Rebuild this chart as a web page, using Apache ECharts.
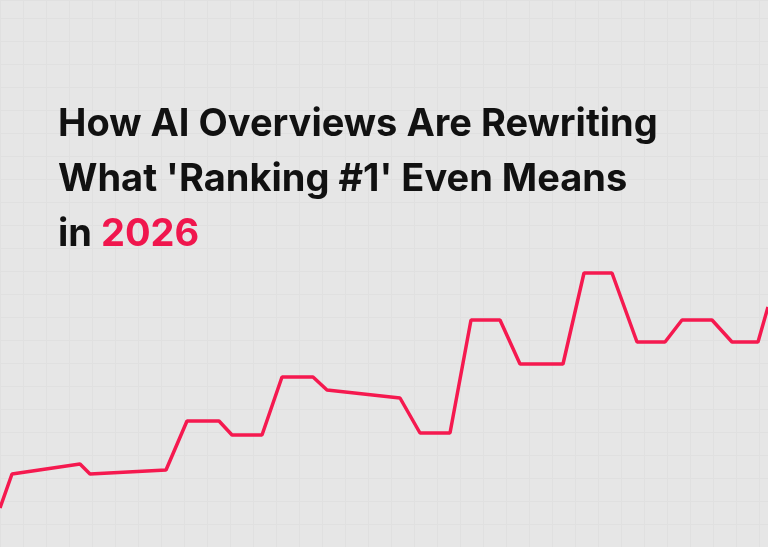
<!DOCTYPE html><html><head><meta charset="utf-8"><script src="https://cdn.jsdelivr.net/npm/echarts@6/dist/echarts.min.js"></script>
<style>html,body{margin:0;background:#e6e6e6}#c{width:768px;height:547px}</style></head><body><div id="c"></div><script>
const xs=[0,12,80,90,166,187,219,232,262,282,313,327,400,420,450,471,500,520,563,584,612,637,665,682,712,732,758,768];
const ys=[39,73,83,73,77,126,126,112,112,170,170,157,149,114,114,227,227,183,183,274,274,205,205,227,227,205,205,240];
const titleLines=["How AI Overviews Are Rewriting","What 'Ranking #1' Even Means"];
const titleYear="2026";
const c=echarts.init(document.getElementById('c'));
c.setOption({backgroundColor:'#e6e6e6',animation:false,
title:{left:53,top:92,text:titleLines.join('\n')+'\nin {r|'+titleYear+'}',textStyle:{fontFamily:'Inter',fontWeight:'bold',fontSize:38,lineHeight:55,color:'#111',rich:{r:{color:'#f0164d',fontFamily:'Inter',fontWeight:'bold',fontSize:38,lineHeight:55}}}},
grid:{left:0,right:0,top:0,bottom:0},
xAxis:{type:'value',min:0,max:768,interval:23,axisLine:{show:false},axisTick:{show:false},axisLabel:{show:false},splitLine:{lineStyle:{color:'#e0e0e0',width:1}}},
yAxis:{type:'value',min:0,max:547,interval:23,axisLine:{show:false},axisTick:{show:false},axisLabel:{show:false},splitLine:{lineStyle:{color:'#e0e0e0',width:1}}},
series:[{type:'line',data:xs.map((x,i)=>[x,ys[i]]),symbol:'none',lineStyle:{color:'#f5194f',width:3.5}}]});
</script></body></html>
